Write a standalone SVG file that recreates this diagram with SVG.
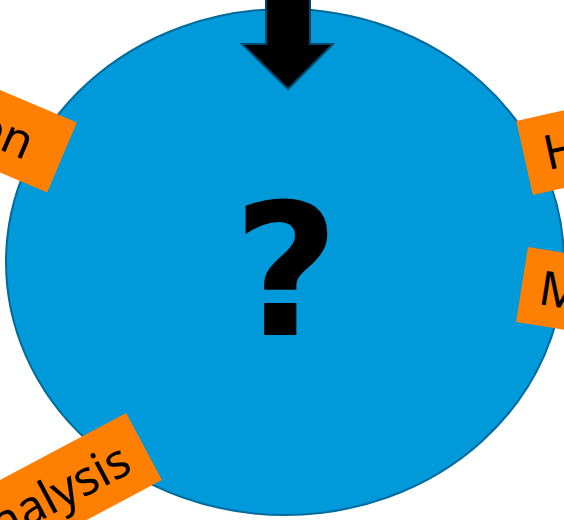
<svg xmlns="http://www.w3.org/2000/svg" width="564" height="520" viewBox="0 0 564 520">
<style>
.lbl rect{fill:#ff7f00;}
.lbl text{font-family:"Noto Sans","Open Sans",sans-serif;font-size:48px;fill:#000;}
.q{font-family:"DejaVu Sans",sans-serif;font-weight:bold;font-size:183px;fill:#000;}
</style>
<rect width="564" height="520" fill="#ffffff"/>
<g id="center">
<ellipse cx="285" cy="262" rx="279" ry="253" fill="#0099da" stroke="#006a9c" stroke-width="2"/>
<text class="q" x="286" y="335" text-anchor="middle">?</text>
</g>
<g id="connectors">
<polygon points="266,-5 310,-5 310,44 333,44 288,89 242,44 266,44" fill="#000" stroke="#004a70" stroke-width="2" stroke-linejoin="miter"/>
</g>
<g id="label-left" class="lbl" transform="translate(62,157.5) rotate(23)">
<rect x="-300" y="-38" width="300" height="76"/>
<text x="-33" y="17" text-anchor="end">on</text>
</g>
<g id="label-h" class="lbl" transform="translate(524.5,158) rotate(-12.6)">
<rect x="0" y="-38" width="200" height="76"/>
<text x="20" y="17">H</text>
</g>
<g id="label-m" class="lbl" transform="translate(522,284.5) rotate(9)">
<rect x="0" y="-38" width="200" height="76"/>
<text x="18" y="17">M</text>
</g>
<g id="label-bottom" class="lbl" transform="translate(144,446.5) rotate(-28)">
<rect x="-400" y="-38" width="400" height="76"/>
<text x="-20" y="17" text-anchor="end">nalysis</text>
</g>
</svg>
